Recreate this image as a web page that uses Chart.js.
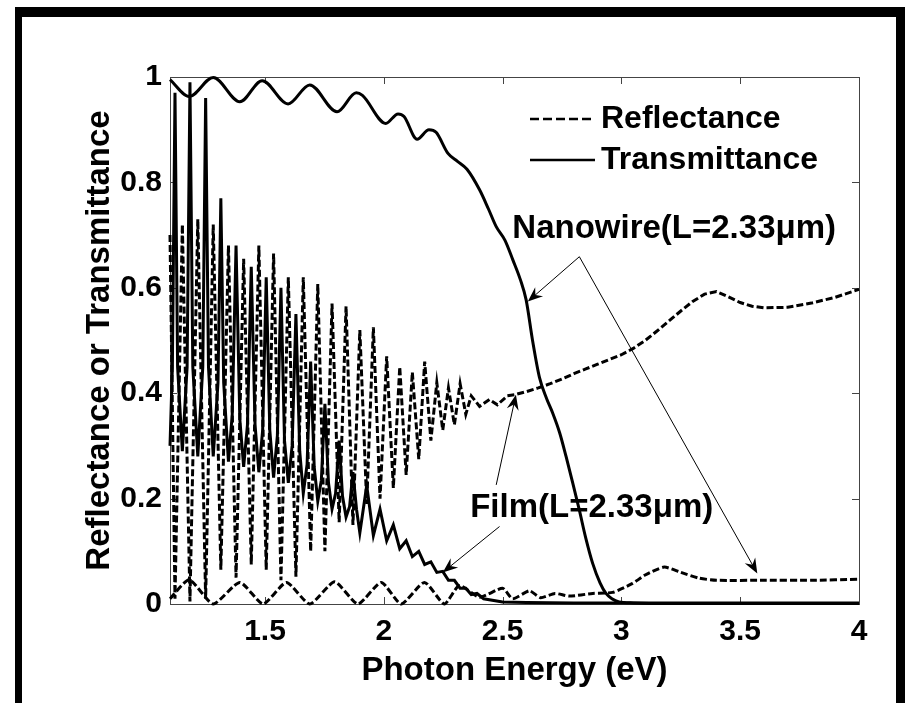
<!DOCTYPE html>
<html>
<head>
<meta charset="utf-8">
<script src="https://cdn.jsdelivr.net/npm/chart.js@4/dist/chart.umd.min.js"></script>
<style>
  body { margin: 0; background: #fff; }
  #wrap { width: 915px; height: 703px; position: relative; }
</style>
</head>
<body>
<div id="wrap"><canvas id="myChart"></canvas></div>
<script>
// axis ticks
const xTicks = [1.5, 2, 2.5, 3, 3.5, 4];
const yTicks = [0, 0.2, 0.4, 0.6, 0.8, 1];

// film reflectance (dashed, fast fringes)
const filmREnergy = [1.100, 1.121, 1.152, 1.184, 1.217, 1.250, 1.282, 1.314, 1.346, 1.378, 1.410, 1.442,
  1.474, 1.505, 1.536, 1.567, 1.598, 1.630, 1.661, 1.692, 1.722, 1.752, 1.782, 1.812, 1.841, 1.870,
  1.899, 1.928, 1.956, 1.984, 2.012, 2.040, 2.067, 2.094, 2.120, 2.147, 2.172, 2.198, 2.223, 2.248,
  2.272, 2.297, 2.321, 2.345, 2.368, 2.403, 2.445, 2.478, 2.520, 2.550, 2.600, 2.650, 2.700, 2.750,
  2.800, 2.850, 2.900, 2.950, 3.000, 3.050, 3.100, 3.150, 3.200, 3.250, 3.300, 3.350, 3.400, 3.450,
  3.500, 3.550, 3.600, 3.700, 3.800, 3.900, 4.000];
const filmRValue = [0.70, 0.01, 0.72, 0.005, 0.73, 0.01, 0.72, 0.065, 0.68, 0.05, 0.655, 0.075,
  0.68, 0.065, 0.665, 0.045, 0.62, 0.052, 0.62, 0.10, 0.607, 0.10, 0.57, 0.155, 0.565, 0.15,
  0.52, 0.19, 0.525, 0.20, 0.47, 0.22, 0.45, 0.245, 0.44, 0.275, 0.46, 0.31, 0.42, 0.33,
  0.41, 0.34, 0.418, 0.36, 0.395, 0.375, 0.388, 0.378, 0.395, 0.397, 0.403, 0.41, 0.418, 0.427,
  0.437, 0.446, 0.455, 0.464, 0.473, 0.485, 0.50, 0.518, 0.537, 0.556, 0.574, 0.588, 0.593, 0.583,
  0.572, 0.565, 0.562, 0.563, 0.571, 0.582, 0.597];

// film transmittance (solid, sharp spikes, broad valleys)
const filmTEnergy = [
  1.100, 1.110, 1.121, 1.132, 1.152, 1.172, 1.184, 1.196,
  1.217, 1.238, 1.250, 1.262, 1.282, 1.302, 1.314, 1.326,
  1.346, 1.362, 1.378, 1.394, 1.410, 1.426, 1.442, 1.458,
  1.474, 1.490, 1.505, 1.520, 1.536, 1.552, 1.567, 1.582,
  1.598, 1.614, 1.630, 1.646, 1.661, 1.677, 1.692, 1.707,
  1.722, 1.737, 1.752, 1.767, 1.782, 1.797, 1.812, 1.826,
  1.841, 1.856, 1.870, 1.885, 1.899, 1.928, 1.956, 1.984,
  2.012, 2.040, 2.067, 2.094, 2.120, 2.147, 2.172, 2.198,
  2.223, 2.248, 2.272, 2.297, 2.321, 2.345, 2.368, 2.392,
  2.420, 2.500, 2.600, 2.800, 3.000, 4.000];
const filmTValue = [
  0.30, 0.45, 0.97, 0.45, 0.29, 0.45, 0.99, 0.45,
  0.28, 0.45, 0.96, 0.45, 0.28, 0.42, 0.77, 0.42,
  0.27, 0.36, 0.68, 0.35, 0.26, 0.34, 0.64, 0.34,
  0.25, 0.33, 0.62, 0.33, 0.24, 0.32, 0.60, 0.31,
  0.23, 0.30, 0.55, 0.29, 0.21, 0.265, 0.46, 0.26,
  0.195, 0.235, 0.38, 0.23, 0.18, 0.21, 0.31, 0.205,
  0.165, 0.185, 0.25, 0.18, 0.135, 0.225, 0.13, 0.18,
  0.12, 0.15, 0.105, 0.12, 0.09, 0.10, 0.075, 0.08,
  0.06, 0.062, 0.045, 0.045, 0.03, 0.03, 0.018, 0.02,
  0.01, 0.004, 0.003, 0.002, 0.002, 0.002];

// nanowire reflectance (dashed)
const wireREnergy = [1.100, 1.181, 1.282, 1.394, 1.492, 1.590, 1.688, 1.793, 1.891, 1.989, 2.073, 2.171,
  2.255, 2.318, 2.403, 2.500, 2.542, 2.613, 2.660, 2.720, 2.780, 2.879, 2.963, 3.047, 3.100, 3.180,
  3.250, 3.327, 3.400, 3.600, 3.800, 4.000];
const wireRValue = [0.01, 0.046, 0.0, 0.041, 0.0, 0.041, 0.0, 0.042, 0.0, 0.041, 0.0, 0.041,
  0.0, 0.035, 0.013, 0.03, 0.01, 0.025, 0.012, 0.02, 0.015, 0.02, 0.022, 0.039, 0.055, 0.07,
  0.06, 0.049, 0.045, 0.045, 0.045, 0.047];

// nanowire transmittance (solid)
const wireTEnergy = [1.100, 1.181, 1.282, 1.394, 1.488, 1.597, 1.688, 1.803, 1.884, 1.910, 2.008, 2.060,
  2.085, 2.140, 2.190, 2.220, 2.270, 2.310, 2.350, 2.403, 2.440, 2.473, 2.510, 2.543, 2.575, 2.599,
  2.626, 2.655, 2.685, 2.711, 2.740, 2.767, 2.795, 2.823, 2.850, 2.879, 2.910, 2.935, 2.960, 2.990,
  3.050, 3.200, 4.000];
const wireTValue = [0.995, 0.963, 0.999, 0.953, 0.993, 0.949, 0.985, 0.934, 0.970, 0.965, 0.912, 0.93,
  0.925, 0.882, 0.90, 0.895, 0.855, 0.84, 0.825, 0.786, 0.75, 0.716, 0.69, 0.653, 0.615, 0.577,
  0.50, 0.43, 0.39, 0.362, 0.325, 0.28, 0.23, 0.178, 0.125, 0.077, 0.04, 0.02, 0.01, 0.004,
  0.002, 0.001, 0.001];

// annotations in data units: [text, centre x, baseline y]
const wireLabel = ["Nanowire(L=2.33\u03bcm)", 3.222, 0.694];
const filmLabel = ["Film(L=2.33\u03bcm)", 2.875, 0.165];
// arrows: [fromX, fromY, toX, toY]
const arrows = [
  [2.823, 0.659, 2.606, 0.574],
  [2.823, 0.659, 3.572, 0.058],
  [2.473, 0.226, 2.556, 0.397],
  [2.487, 0.147, 2.248, 0.060]
];

const FONT = "'Liberation Sans', Arial, sans-serif";

const pts = (xs, ys) => xs.map((x, i) => ({x: x, y: ys[i]}));

const frame = {
  id: 'frame',
  afterDraw(chart) {
    const ctx = chart.ctx;
    ctx.save();
    ctx.fillStyle = '#000';
    ctx.fillRect(15, 7, 890, 10);
    ctx.fillRect(15, 7, 7, 700);
    ctx.fillRect(896, 7, 9, 700);
    ctx.restore();
  }
};

const axisBox = {
  id: 'axisBox',
  beforeDatasetsDraw(chart) {
    const {ctx, chartArea: a, scales} = chart;
    ctx.save();
    ctx.strokeStyle = '#444';
    ctx.lineWidth = 1;
    ctx.strokeRect(Math.round(a.left) + 0.5, Math.round(a.top) + 0.5, Math.round(a.right - a.left), Math.round(a.bottom - a.top));
    ctx.beginPath();
    xTicks.forEach(v => {
      const x = Math.round(scales.x.getPixelForValue(v)) + 0.5;
      ctx.moveTo(x, a.bottom); ctx.lineTo(x, a.bottom - 7);
      ctx.moveTo(x, a.top); ctx.lineTo(x, a.top + 7);
    });
    yTicks.forEach(v => {
      const y = Math.round(scales.y.getPixelForValue(v)) + 0.5;
      ctx.moveTo(a.left, y); ctx.lineTo(a.left + 7, y);
      ctx.moveTo(a.right, y); ctx.lineTo(a.right - 7, y);
    });
    ctx.stroke();
    ctx.restore();
  }
};

const notes = {
  id: 'notes',
  afterDatasetsDraw(chart) {
    const {ctx, chartArea: a, scales} = chart;
    const px = v => scales.x.getPixelForValue(v);
    const py = v => scales.y.getPixelForValue(v);
    ctx.save();
    ctx.fillStyle = '#000';
    ctx.strokeStyle = '#000';
    ctx.font = 'bold 33px ' + FONT;
    ctx.textAlign = 'center';
    ctx.textBaseline = 'alphabetic';
    [wireLabel, filmLabel].forEach(l => ctx.fillText(l[0], px(l[1]), py(l[2])));

    // thin arrows with notched heads
    arrows.forEach(ar => {
      const x0 = px(ar[0]), y0 = py(ar[1]), x1 = px(ar[2]), y1 = py(ar[3]);
      const ang = Math.atan2(y1 - y0, x1 - x0);
      ctx.lineWidth = 1;
      ctx.beginPath();
      ctx.moveTo(x0, y0);
      ctx.lineTo(x1 - 8 * Math.cos(ang), y1 - 8 * Math.sin(ang));
      ctx.stroke();
      ctx.save();
      ctx.translate(x1, y1);
      ctx.rotate(ang);
      ctx.beginPath();
      ctx.moveTo(0, 0);
      ctx.lineTo(-15, -6);
      ctx.lineTo(-10, 0);
      ctx.lineTo(-15, 6);
      ctx.closePath();
      ctx.fill();
      ctx.restore();
    });

    // legend top right
    const lx = a.right - 329, ly = a.top + 42;
    ctx.font = 'bold 32px ' + FONT;
    ctx.lineWidth = 2.4;
    ctx.setLineDash([9, 4]);
    ctx.beginPath(); ctx.moveTo(lx, ly); ctx.lineTo(lx + 65, ly); ctx.stroke();
    ctx.setLineDash([]);
    ctx.beginPath(); ctx.moveTo(lx, ly + 41); ctx.lineTo(lx + 65, ly + 41); ctx.stroke();
    ctx.textAlign = 'left';
    ctx.textBaseline = 'middle';
    ctx.fillText('Reflectance', lx + 71, ly);
    ctx.fillText('Transmittance', lx + 71, ly + 41);
    ctx.restore();
  }
};

const dashed = {borderColor: '#000', borderWidth: 3, borderDash: [7, 3], pointRadius: 0, fill: false, clip: 3};
const solid = {borderColor: '#000', borderWidth: 3, pointRadius: 0, fill: false, clip: 3};

new Chart(document.getElementById('myChart'), {
  type: 'line',
  data: {
    datasets: [
      Object.assign({label: 'Film reflectance', data: pts(filmREnergy, filmRValue)}, dashed),
      Object.assign({label: 'Film transmittance', data: pts(filmTEnergy, filmTValue)}, solid),
      Object.assign({label: 'Nanowire reflectance', data: pts(wireREnergy, wireRValue), tension: 0.2}, dashed),
      Object.assign({label: 'Nanowire transmittance', data: pts(wireTEnergy, wireTValue), cubicInterpolationMode: 'monotone'}, solid)
    ]
  },
  options: {
    responsive: true,
    maintainAspectRatio: false,
    animation: false,
    layout: {padding: {left: 78, top: 77, right: 56, bottom: 0}},
    plugins: {legend: {display: false}, tooltip: {enabled: false}},
    scales: {
      x: {
        type: 'linear', min: 1.1, max: 4,
        afterBuildTicks: s => { s.ticks = xTicks.map(v => ({value: v})); },
        afterFit: s => { s.height = 99; },
        grid: {display: false, drawTicks: false},
        border: {display: false},
        ticks: {color: '#000', padding: 10, maxRotation: 0, font: {family: FONT, size: 30, weight: 'bold'}, callback: v => String(v)},
        title: {display: true, text: 'Photon Energy (eV)', color: '#000', padding: {top: 0, bottom: 12}, font: {family: FONT, size: 33, weight: 'bold'}}
      },
      y: {
        type: 'linear', min: 0, max: 1,
        afterBuildTicks: s => { s.ticks = yTicks.map(v => ({value: v})); },
        afterFit: s => { s.width = 92; },
        grid: {display: false, drawTicks: false},
        border: {display: false},
        ticks: {color: '#000', padding: 8, font: {family: FONT, size: 30, weight: 'bold'}, callback: v => String(v)},
        title: {display: true, text: 'Reflectance or Transmittance', color: '#000', padding: {top: 2, bottom: 0}, font: {family: FONT, size: 33, weight: 'bold'}}
      }
    }
  },
  plugins: [axisBox, notes, frame]
});
</script>
</body>
</html>
